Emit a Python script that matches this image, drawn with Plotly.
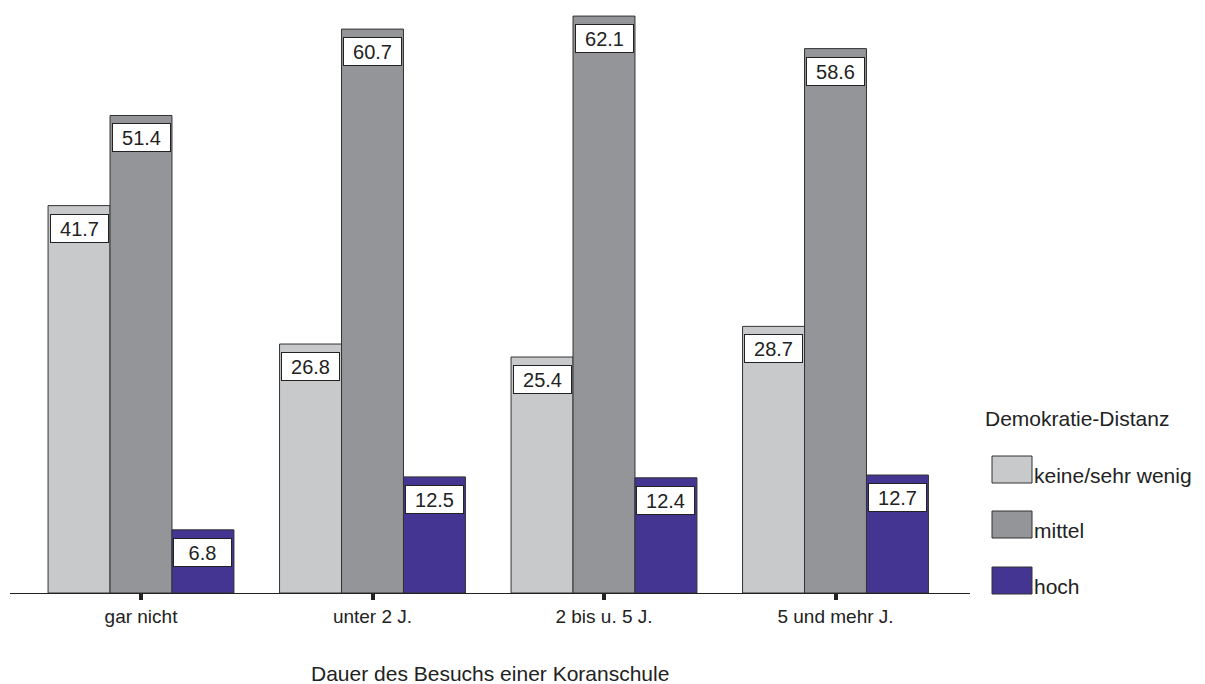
import plotly.graph_objects as go

categories = ["gar nicht", "unter 2 J.", "2 bis u. 5 J.", "5 und mehr J."]
series_names = ["keine/sehr wenig", "mittel", "hoch"]
values_keine = [41.7, 26.8, 25.4, 28.7]
values_mittel = [51.4, 60.7, 62.1, 58.6]
values_hoch = [6.8, 12.5, 12.4, 12.7]
colors = ["#c8c9cb", "#939598", "#443592"]
x_title = "Dauer des Besuchs einer Koranschule"
legend_title = "Demokratie-Distanz"

series = [values_keine, values_mittel, values_hoch]
xpos = list(range(len(categories)))

W, H = 1205, 684
ml, mr, mt, mb = 10, 235, 10, 91
pw = W - ml - mr
ph = H - mt - mb
spacing_px = 231.5
x0 = -(141 - ml) / spacing_px
x1 = x0 + pw / spacing_px
px_per_unit = 9.29
ymax = ph / px_per_unit

bargap = 0.197
barw = (1 - bargap) / 3
FONT = "Liberation Sans, Arial, sans-serif"

fig = go.Figure()
for name, vals, col in zip(series_names, series, colors):
    fig.add_trace(go.Bar(
        x=xpos, y=vals, name=name,
        marker=dict(color=col, line=dict(color="#333333", width=1)),
        showlegend=False, hoverinfo="y",
    ))

annotations = []
for j, vals in enumerate(series):
    for i, v in enumerate(vals):
        annotations.append(dict(
            x=i + (j - 1) * barw, y=v, xref="x", yref="y",
            text=f"{v:.1f}", showarrow=False,
            yanchor="top", xanchor="center", yshift=-8,
            bgcolor="white", bordercolor="#222222", borderwidth=1, borderpad=1,
            width=55, height=25,
            font=dict(family=FONT, size=20, color="#222222"),
        ))

def px_to_paper_x(px):
    return (px - ml) / pw

def px_to_paper_y(py):
    return (H - mb - py) / ph

# x-axis title
annotations.append(dict(
    x=px_to_paper_x(490), y=px_to_paper_y(673), xref="paper", yref="paper",
    text=x_title, showarrow=False, xanchor="center", yanchor="middle",
    font=dict(family=FONT, size=21, color="#222222"),
))

# legend title
annotations.append(dict(
    x=px_to_paper_x(983), y=px_to_paper_y(418), xref="paper", yref="paper",
    text=legend_title, showarrow=False, xanchor="left", yanchor="middle",
    font=dict(family=FONT, size=21, color="#222222"),
))

shapes = []
sw_tops = [456, 511, 567]
for k, (name, col) in enumerate(zip(series_names, colors)):
    top = sw_tops[k]
    bot = top + 27
    shapes.append(dict(
        type="rect", xref="paper", yref="paper",
        x0=px_to_paper_x(992), x1=px_to_paper_x(1032),
        y0=px_to_paper_y(bot), y1=px_to_paper_y(top),
        fillcolor=col, line=dict(color="#333333", width=1),
    ))
    annotations.append(dict(
        x=px_to_paper_x(1032), y=px_to_paper_y((top + bot) / 2 + 6),
        xref="paper", yref="paper",
        text=name, showarrow=False, xanchor="left", yanchor="middle",
        font=dict(family=FONT, size=21, color="#222222"),
    ))

fig.update_layout(
    width=W, height=H,
    margin=dict(l=ml, r=mr, t=mt, b=mb),
    paper_bgcolor="white", plot_bgcolor="white",
    barmode="group", bargap=bargap, bargroupgap=0,
    annotations=annotations, shapes=shapes,
    showlegend=False,
    xaxis=dict(
        range=[x0, x1], tickmode="array", tickvals=xpos, ticktext=categories,
        showline=True, linecolor="#222222", linewidth=1,
        ticks="outside", ticklen=6, tickwidth=4, tickcolor="#222222",
        showgrid=False, zeroline=False,
        tickfont=dict(family=FONT, size=19, color="#222222"),
    ),
    yaxis=dict(
        range=[0, ymax], visible=False, showgrid=False, zeroline=False,
    ),
)

fig.write_html(
    "out.html",
    config={"displayModeBar": False},
    post_script="document.body.style.margin='0';document.body.style.padding='0';",
)
